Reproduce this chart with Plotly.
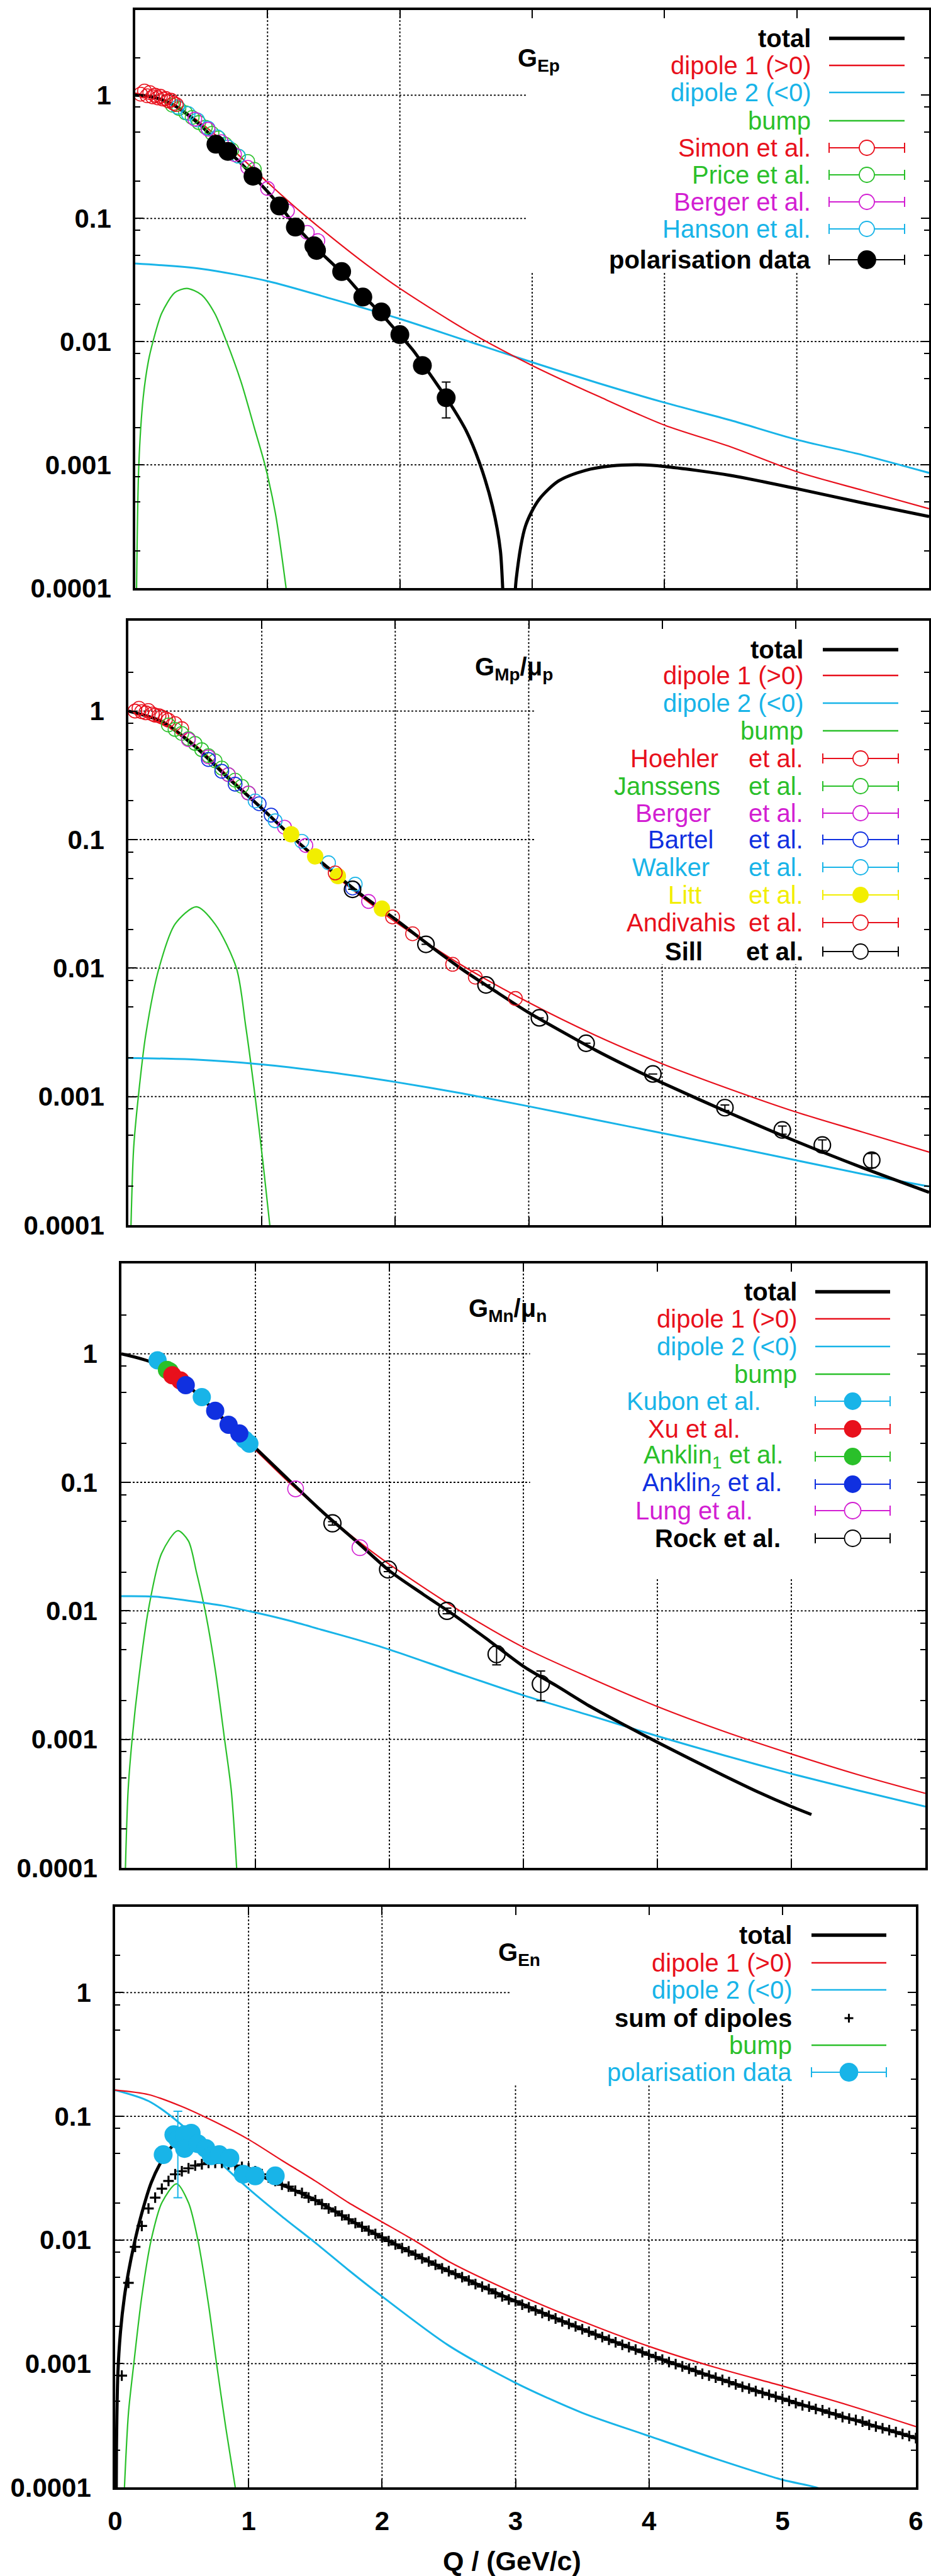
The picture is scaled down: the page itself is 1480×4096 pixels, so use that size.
import plotly.graph_objects as go

# ======================= DATA =======================
# ---- Panel 1 : G_Ep ----
gep_d1_q = [0, 0.25, 0.5, 0.75, 1, 1.25, 1.5, 1.75, 2, 2.5, 3, 3.5, 4, 4.5, 5, 5.5, 6]
gep_d1 = [1.04, 0.89, 0.59, 0.35, 0.196, 0.113, 0.068, 0.042, 0.027, 0.0124, 0.0064,
          0.0036, 0.0021, 0.0014, 0.00088, 0.00062, 0.00044]
gep_d2_q = [0, 0.5, 1, 1.5, 2, 2.5, 3, 3.5, 4, 4.5, 5, 5.5, 6]
gep_d2 = [0.043, 0.039, 0.031, 0.022, 0.0153, 0.0102, 0.0068, 0.0046, 0.0032, 0.0023,
          0.0016, 0.0012, 0.00086]
gep_bump_q = [0.01, 0.027, 0.06, 0.1, 0.134, 0.2, 0.3, 0.39, 0.5, 0.6, 0.69, 0.8, 0.9,
              0.98, 1.06, 1.14]
gep_bump = [0.0001, 0.001, 0.0035, 0.007, 0.01, 0.017, 0.025, 0.027, 0.024, 0.017, 0.01,
            0.0047, 0.002, 0.001, 0.0004, 0.0001]
gep_tot_q = [0, 0.1, 0.2, 0.3, 0.4, 0.5, 0.6, 0.7, 0.8, 0.9, 1.0, 1.1, 1.2, 1.3, 1.4, 1.5,
             1.6, 1.7, 1.8, 1.9, 2.0, 2.1, 2.2, 2.3, 2.4, 2.5, 2.6, 2.7, 2.76, 2.82, 2.88,
             2.95, 3.05, 3.2, 3.4, 3.6, 3.8, 4.0, 4.5, 5.0, 5.5, 6.0]
gep_tot = [1.0, 0.98, 0.92, 0.82, 0.69, 0.56, 0.44, 0.35, 0.28, 0.215, 0.165, 0.124, 0.09,
           0.069, 0.053, 0.042, 0.033, 0.025, 0.0195, 0.015, 0.0113, 0.0085, 0.006, 0.0042,
           0.0029, 0.0019, 0.00105, 0.00046, 0.0002, 0.00001, 0.00012, 0.00032, 0.00052,
           0.00074, 0.0009, 0.00098, 0.001, 0.00097, 0.00082, 0.00064, 0.00049, 0.00038]
simon_q = [0.04, 0.07, 0.09, 0.11, 0.13, 0.15, 0.17, 0.19, 0.21, 0.23, 0.25, 0.27, 0.29, 0.31]
simon_v = [1.02, 1.08, 0.99, 1.05, 0.97, 1.0, 0.95, 0.98, 0.93, 0.94, 0.9, 0.91, 0.86, 0.84]
price_q = [0.28, 0.33, 0.38, 0.43, 0.48, 0.53, 0.58, 0.63, 0.68, 0.73, 0.78, 0.85, 0.9]
price_v = [0.83, 0.78, 0.72, 0.66, 0.6, 0.55, 0.49, 0.45, 0.4, 0.36, 0.32, 0.29, 0.25]
bergerE_q = [0.45, 0.55, 0.65, 0.75, 0.85, 1.0, 1.15, 1.3, 1.38]
bergerE_v = [0.64, 0.53, 0.42, 0.33, 0.26, 0.175, 0.115, 0.077, 0.066]
hanson_q = [0.32, 0.4, 0.47, 0.55, 0.62, 0.7, 0.78]
hanson_v = [0.8, 0.71, 0.63, 0.54, 0.46, 0.38, 0.32]
polE_q = [0.61, 0.70, 0.89, 1.09, 1.21, 1.35, 1.37, 1.56, 1.72, 1.86, 2.0, 2.17, 2.35]
polE_v = [0.40, 0.35, 0.22, 0.126, 0.085, 0.060, 0.055, 0.037, 0.023, 0.0174, 0.0114,
          0.0064, 0.0035]
polE_ep = [0, 0, 0, 0, 0, 0, 0, 0, 0, 0, 0, 0, 0.0012]
polE_em = [0, 0, 0, 0, 0, 0, 0, 0, 0, 0, 0, 0, 0.0011]

# ---- Panel 2 : G_Mp / mu_p ----
gmp_d1_q = [0, 0.25, 0.5, 0.75, 1, 1.25, 1.5, 1.75, 2, 2.5, 3, 3.5, 4, 4.5, 5, 5.5, 6]
gmp_d1 = [1.0, 0.845, 0.547, 0.311, 0.177, 0.0985, 0.058, 0.0357, 0.0229, 0.0105, 0.0054,
          0.003, 0.0018, 0.00115, 0.00076, 0.00053, 0.00037]
gmp_d2_q = [0, 0.5, 1, 1.5, 2, 2.5, 3, 3.5, 4, 4.5, 5, 5.5, 6]
gmp_d2 = [0.002, 0.00194, 0.00178, 0.00155, 0.0013, 0.00106, 0.00084, 0.00066, 0.00052,
          0.00041, 0.00032, 0.00025, 0.0002]
gmp_bump_q = [0.02, 0.04, 0.075, 0.13, 0.23, 0.35, 0.51, 0.65, 0.81, 0.88, 0.95, 1.01, 1.06]
gmp_bump = [0.0001, 0.0004, 0.001, 0.003, 0.01, 0.022, 0.03, 0.022, 0.01, 0.0035, 0.001,
            0.0003, 0.0001]
gmp_tot_q = [0, 0.25, 0.5, 0.75, 1, 1.25, 1.5, 1.75, 2, 2.25, 2.5, 2.75, 3, 3.25, 3.5, 3.75,
             4, 4.5, 5, 5.5, 6]
gmp_tot = [1.0, 0.83, 0.53, 0.3, 0.175, 0.1, 0.06, 0.037, 0.024, 0.0152, 0.0098, 0.0066,
           0.0045, 0.0032, 0.0023, 0.0017, 0.00128, 0.00075, 0.00045, 0.00028, 0.00018]
hoehler_q = [0.05, 0.08, 0.1, 0.13, 0.15, 0.18, 0.2, 0.23, 0.25, 0.28, 0.3, 0.35, 0.4]
hoehler_v = [1.0, 1.05, 0.99, 0.97, 1.01, 0.95, 0.93, 0.92, 0.9, 0.87, 0.85, 0.8, 0.73]
janssens_q = [0.3, 0.35, 0.4, 0.45, 0.5, 0.55, 0.6, 0.65, 0.7, 0.75, 0.8, 0.85, 0.9]
janssens_v = [0.78, 0.72, 0.67, 0.61, 0.56, 0.5, 0.45, 0.41, 0.36, 0.32, 0.29, 0.26, 0.23]
bergerM_q = [0.45, 0.6, 0.75, 0.9, 1.17, 1.33, 1.8]
bergerM_v = [0.6, 0.44, 0.32, 0.23, 0.125, 0.09, 0.033]
bartel_q = [0.6, 0.7, 0.8, 0.98, 1.07, 1.68]
bartel_v = [0.42, 0.34, 0.27, 0.19, 0.155, 0.042]
walker_q = [0.95, 1.1, 1.3, 1.5, 1.7]
walker_v = [0.2, 0.14, 0.097, 0.066, 0.045]
litt_q = [1.22, 1.4, 1.57, 1.9]
litt_v = [0.11, 0.074, 0.052, 0.029]
andiv_q = [1.55, 1.98, 2.13, 2.43, 2.6, 2.9]
andiv_v = [0.055, 0.025, 0.0185, 0.0107, 0.0085, 0.0058]
sill_q = [1.68, 2.23, 2.68, 3.08, 3.43, 3.93, 4.47, 4.9, 5.2, 5.57]
sill_v = [0.041, 0.0153, 0.0074, 0.0041, 0.0026, 0.0015, 0.00082, 0.00055, 0.00042, 0.00032]
sill_e = [0, 0, 0, 0, 0, 0, 0.00004, 0.00004, 0.00004, 0.00004]

# ---- Panel 3 : G_Mn / mu_n ----
gmn_d1_q = [0, 0.25, 0.5, 0.75, 1, 1.25, 1.5, 1.75, 2, 2.5, 3, 3.5, 4, 4.5, 5, 5.5, 6]
gmn_d1 = [1.0, 0.85, 0.55, 0.31, 0.178, 0.1, 0.059, 0.036, 0.023, 0.0104, 0.0052, 0.003,
          0.0018, 0.00115, 0.00077, 0.00053, 0.00038]
gmn_d2_q = [0, 0.25, 0.5, 0.75, 1, 1.25, 1.5, 1.75, 2, 2.5, 3, 3.5, 4, 4.5, 5, 5.5, 6]
gmn_d2 = [0.013, 0.0129, 0.012, 0.011, 0.0097, 0.0084, 0.0071, 0.006, 0.005, 0.0033, 0.0022,
          0.00153, 0.00106, 0.00075, 0.00054, 0.0004, 0.0003]
gmn_bump_q = [0.03, 0.05, 0.08, 0.13, 0.2, 0.3, 0.42, 0.5, 0.56, 0.625, 0.7, 0.77, 0.82, 0.86]
gmn_bump = [0.0001, 0.0004, 0.001, 0.003, 0.01, 0.028, 0.042, 0.035, 0.02, 0.01, 0.0035,
            0.001, 0.0004, 0.0001]
gmn_tot_q = [0, 0.25, 0.5, 0.75, 1, 1.25, 1.5, 1.75, 2, 2.25, 2.5, 2.75, 3, 3.25, 3.5, 3.75,
             4, 4.25, 4.5, 4.75, 5, 5.15]
gmn_tot = [1.0, 0.84, 0.56, 0.32, 0.185, 0.104, 0.059, 0.035, 0.0205, 0.0135, 0.009, 0.0058,
           0.0037, 0.0026, 0.0018, 0.0013, 0.00095, 0.0007, 0.00052, 0.00039, 0.0003, 0.00026]
kubon_q = [0.27, 0.6, 0.92, 0.955]
kubon_v = [0.89, 0.46, 0.215, 0.20]
xu_q = [0.38, 0.44]
xu_v = [0.68, 0.62]
anklin1_q = [0.34, 0.36]
anklin1_v = [0.75, 0.73]
anklin2_q = [0.48, 0.7, 0.8, 0.88]
anklin2_v = [0.57, 0.36, 0.28, 0.24]
lung_q = [1.3, 1.78]
lung_v = [0.089, 0.031]
rock_q = [1.575, 1.99, 2.43, 2.8, 3.13]
rock_v = [0.048, 0.021, 0.010, 0.0046, 0.0027]
rock_ep = [0.0015, 0.0008, 0.0005, 0.0007, 0.0007]
rock_em = [0.0015, 0.0008, 0.0005, 0.0008, 0.0007]

# ---- Panel 4 : G_En ----
gen_d1_q = [0, 0.25, 0.5, 0.75, 1, 1.25, 1.5, 1.75, 2, 2.25, 2.5, 3, 3.5, 4, 4.5, 5, 5.5, 6]
gen_d1 = [0.163, 0.15, 0.12, 0.09, 0.065, 0.044, 0.03, 0.02, 0.014, 0.0098, 0.0067, 0.0037,
          0.0022, 0.00138, 0.00093, 0.00066, 0.00046, 0.00031]
gen_d2_q = [0, 0.25, 0.5, 0.75, 1, 1.25, 1.5, 1.75, 2, 2.5, 3, 3.5, 4, 4.5, 5, 5.25, 5.5]
gen_d2 = [0.163, 0.133, 0.085, 0.046, 0.026, 0.0155, 0.0095, 0.0057, 0.0035, 0.0014, 0.0007,
          0.0004, 0.00026, 0.00017, 0.000115, 0.0001, 0.00008]
gen_bump_q = [0.07, 0.1, 0.14, 0.2, 0.27, 0.35, 0.46, 0.55, 0.62, 0.7, 0.76, 0.83, 0.9]
gen_bump = [0.0001, 0.0004, 0.001, 0.0035, 0.01, 0.02, 0.0285, 0.02, 0.01, 0.003, 0.001,
            0.0003, 0.0001]
gen_tot_q = [0, 0.01, 0.02, 0.04, 0.07, 0.1, 0.14, 0.2, 0.27, 0.34, 0.4, 0.46, 0.5, 0.55,
             0.6, 0.7, 0.8, 0.9, 1.0, 1.12, 1.25, 1.5, 1.75, 2.0, 2.5, 3.0, 3.5, 4.0, 4.5,
             5.0, 5.5, 6.0]
gen_tot = [0.000001, 0.0002, 0.0008, 0.0018, 0.0035, 0.0055, 0.009, 0.0165, 0.029, 0.042,
           0.053, 0.061, 0.062, 0.058, 0.054, 0.046, 0.043, 0.04, 0.037, 0.032, 0.028, 0.021,
           0.0147, 0.0105, 0.0056, 0.0032, 0.0019, 0.00118, 0.00077, 0.00052, 0.00036,
           0.00025]
sumdip_q = [0.05, 0.1, 0.15, 0.2, 0.25, 0.3, 0.35, 0.4, 0.45, 0.5, 0.55, 0.6, 0.65, 0.7,
            0.75, 0.8, 0.85, 0.9, 0.95, 1.0, 1.05, 1.1, 1.15, 1.2, 1.25, 1.3, 1.35, 1.4,
            1.45, 1.5, 1.55, 1.6, 1.65, 1.7, 1.75, 1.8, 1.85, 1.9, 1.95, 2.0, 2.05, 2.1,
            2.15, 2.2, 2.25, 2.3, 2.35, 2.4, 2.45, 2.5, 2.55, 2.6, 2.65, 2.7, 2.75, 2.8,
            2.85, 2.9, 2.95, 3.0, 3.05, 3.1, 3.15, 3.2, 3.25, 3.3, 3.35, 3.4, 3.45, 3.5,
            3.55, 3.6, 3.65, 3.7, 3.75, 3.8, 3.85, 3.9, 3.95, 4.0, 4.05, 4.1, 4.15, 4.2,
            4.25, 4.3, 4.35, 4.4, 4.45, 4.5, 4.55, 4.6, 4.65, 4.7, 4.75, 4.8, 4.85, 4.9,
            4.95, 5.0, 5.05, 5.1, 5.15, 5.2, 5.25, 5.3, 5.35, 5.4, 5.45, 5.5, 5.55, 5.6,
            5.65, 5.7, 5.75, 5.8, 5.85, 5.9, 5.95, 6.0]
sumdip_v = [0.0008, 0.0045, 0.0088, 0.013, 0.018, 0.022, 0.026, 0.030, 0.034, 0.036, 0.038,
            0.040, 0.041, 0.042, 0.042, 0.042, 0.041, 0.040, 0.039, 0.038, 0.036, 0.034,
            0.032, 0.030, 0.028, 0.027, 0.025, 0.024, 0.022, 0.021, 0.0195, 0.018, 0.017,
            0.0158, 0.0147, 0.0137, 0.0128, 0.0119, 0.0112, 0.0105, 0.0098, 0.0092, 0.0086,
            0.0081, 0.0076, 0.0071, 0.0067, 0.0063, 0.0059, 0.0056, 0.0053, 0.0050, 0.0047,
            0.0044, 0.0042, 0.0040, 0.0037, 0.0035, 0.0033, 0.0032, 0.0030, 0.00285, 0.0027,
            0.00257, 0.00244, 0.00232, 0.0022, 0.0021, 0.0020, 0.0019, 0.00181, 0.00172,
            0.00164, 0.00156, 0.00149, 0.00142, 0.00136, 0.0013, 0.00124, 0.00118, 0.00113,
            0.00108, 0.00103, 0.00099, 0.00095, 0.00091, 0.00087, 0.00083, 0.0008, 0.00077,
            0.00074, 0.00071, 0.00068, 0.00065, 0.00063, 0.0006, 0.00058, 0.00056, 0.00054,
            0.00052, 0.0005, 0.00048, 0.00046, 0.00045, 0.00043, 0.00042, 0.0004, 0.00039,
            0.00037, 0.00036, 0.00035, 0.00034, 0.00032, 0.00031, 0.0003, 0.00029, 0.00028,
            0.00027, 0.00026, 0.00025]
polN_q = [0.36, 0.44, 0.47, 0.52, 0.57, 0.52, 0.62, 0.68, 0.72, 0.78, 0.86, 0.96, 1.05, 1.2]
polN_v = [0.049, 0.071, 0.065, 0.071, 0.073, 0.055, 0.06, 0.055, 0.048, 0.049, 0.046, 0.034,
          0.033, 0.033]
polN_ep = [0.004, 0.0, 0.045, 0.0, 0.0, 0.0, 0.0, 0.0, 0.0, 0.0, 0.004, 0.0, 0.0, 0.0]
polN_em = [0.004, 0.0, 0.043, 0.0, 0.0, 0.0, 0.0, 0.0, 0.0, 0.0, 0.004, 0.0, 0.0, 0.0]

y_tickvals = [0.0001, 0.001, 0.01, 0.1, 1]
y_ticktext = ["0.0001", "0.001", "0.01", "0.1", "1"]
x_tickvals = [0, 1, 2, 3, 4, 5, 6]
x_ticktext = ["0", "1", "2", "3", "4", "5", "6"]
grid_x = [1, 2, 3, 4, 5]
grid_ylog = [-3, -2, -1, 0]

# ======================= STYLE / LAYOUT =======================
W, H = 1480, 4096
FONT = "Liberation Sans, Arial, Helvetica, sans-serif"
RED = "#e8101c"
CYAN = "#18b4e8"
GREEN = "#2ac02a"
MAGENTA = "#d21ed2"
BLUE = "#1030e0"
YELLOW = "#f2ee00"
BLACK = "#000000"

# panel frames in output pixels: left, right, top, bottom
PANELS = [(215, 1477, 16, 935), (204, 1477, 987, 1948), (193, 1471, 2009, 2970),
          (183, 1456, 3032, 3955)]
YTOP = [0.691, 0.703, 0.703, 0.694]
# key areas where the grid is hidden: (x start, lowest log10 y)
KEYBOX = [(2.96, -1.43), (3.05, -1.97), (3.05, -1.75), (2.96, -0.75)]

minor_vals = []
for e in range(-4, 1):
    for m in (2, 5, 8):
        minor_vals.append(m * 10 ** e)

fig = go.Figure()


def ax(i):
    return ("x" if i == 0 else f"x{i+1}"), ("y" if i == 0 else f"y{i+1}")


def line(i, q, v, color, width):
    xa, ya = ax(i)
    fig.add_trace(go.Scatter(x=q, y=v, mode="lines", xaxis=xa, yaxis=ya,
                             line=dict(color=color, width=width, shape="spline",
                                       smoothing=0.8),
                             hoverinfo="skip"))


def pts(i, q, v, color, open_=True, size=22, lw=1.6, ep=None, em=None):
    xa, ya = ax(i)
    if open_:
        marker = dict(size=size, symbol="circle-open", color=color, line=dict(width=lw))
    else:
        marker = dict(size=size, symbol="circle", color=color, line=dict(width=0))
    err = None
    if ep is not None:
        err = dict(type="data", array=ep, arrayminus=em, color=color,
                   thickness=2, width=7, visible=True)
    fig.add_trace(go.Scatter(x=q, y=v, mode="markers", xaxis=xa, yaxis=ya,
                             marker=marker, error_y=err, hoverinfo="skip"))


# ---- panel 1
line(0, gep_bump_q, gep_bump, GREEN, 2.2)
line(0, gep_d2_q, gep_d2, CYAN, 3)
line(0, gep_d1_q, gep_d1, RED, 2.2)
line(0, gep_tot_q, gep_tot, BLACK, 5)
pts(0, price_q, price_v, GREEN)
pts(0, hanson_q, hanson_v, CYAN)
pts(0, bergerE_q, bergerE_v, MAGENTA)
pts(0, simon_q, simon_v, RED)
pts(0, polE_q, polE_v, BLACK, open_=False, size=30, ep=polE_ep, em=polE_em)

# ---- panel 2
line(1, gmp_bump_q, gmp_bump, GREEN, 2.2)
line(1, gmp_d2_q, gmp_d2, CYAN, 3)
line(1, gmp_d1_q, gmp_d1, RED, 2.2)
line(1, gmp_tot_q, gmp_tot, BLACK, 5)
pts(1, hoehler_q, hoehler_v, RED)
pts(1, janssens_q, janssens_v, GREEN)
pts(1, bergerM_q, bergerM_v, MAGENTA)
pts(1, bartel_q, bartel_v, BLUE)
pts(1, walker_q, walker_v, CYAN)
pts(1, litt_q, litt_v, YELLOW, open_=False, size=26)
pts(1, andiv_q, andiv_v, RED)
pts(1, sill_q, sill_v, BLACK, size=26, lw=2.2, ep=sill_e, em=sill_e)

# ---- panel 3
line(2, gmn_bump_q, gmn_bump, GREEN, 2.2)
line(2, gmn_d2_q, gmn_d2, CYAN, 3)
line(2, gmn_d1_q, gmn_d1, RED, 2.2)
line(2, gmn_tot_q, gmn_tot, BLACK, 5)
pts(2, kubon_q, kubon_v, CYAN, open_=False, size=29)
pts(2, anklin1_q, anklin1_v, GREEN, open_=False, size=29)
pts(2, xu_q, xu_v, RED, open_=False, size=29)
pts(2, anklin2_q, anklin2_v, BLUE, open_=False, size=29)
pts(2, lung_q, lung_v, MAGENTA, size=25)
pts(2, rock_q, rock_v, BLACK, size=27, lw=2.2, ep=rock_ep, em=rock_em)

# ---- panel 4
line(3, gen_bump_q, gen_bump, GREEN, 2.2)
line(3, gen_d2_q, gen_d2, CYAN, 3)
line(3, gen_d1_q, gen_d1, RED, 2.2)
line(3, gen_tot_q, gen_tot, BLACK, 5)
xa, ya = ax(3)
fig.add_trace(go.Scatter(x=sumdip_q, y=sumdip_v, mode="markers", xaxis=xa, yaxis=ya,
                         marker=dict(symbol="cross-thin", size=12, color=BLACK,
                                     line=dict(color=BLACK, width=3.2)),
                         hoverinfo="skip"))
pts(3, polN_q, polN_v, CYAN, open_=False, size=30, ep=polN_ep, em=polN_em)

# ---- axes
layout = {}
for i, (l, r, t, b) in enumerate(PANELS):
    xs = "xaxis" if i == 0 else f"xaxis{i+1}"
    ys = "yaxis" if i == 0 else f"yaxis{i+1}"
    xa, ya = ax(i)
    common = dict(showline=True, linewidth=3.5, linecolor=BLACK, mirror="allticks",
                  ticks="inside", ticklen=13, tickwidth=2.2, tickcolor=BLACK,
                  showgrid=False, zeroline=False,
                  tickfont=dict(family=FONT, size=42, color=BLACK, weight="bold"))
    layout[xs] = dict(domain=[l / W, r / W], anchor=ya, range=[0, 6],
                      tickmode="array", tickvals=x_tickvals, ticktext=x_ticktext,
                      showticklabels=(i == 3), ticklabelstandoff=14, **common)
    layout[ys] = dict(domain=[1 - b / H, 1 - t / H], anchor=xa, type="log",
                      range=[-4, YTOP[i]], tickmode="array", tickvals=y_tickvals,
                      ticktext=y_ticktext, ticklabelstandoff=26,
                      minor=dict(tickvals=minor_vals, ticks="inside", ticklen=8,
                                 tickwidth=2, tickcolor=BLACK, showgrid=False),
                      **common)

shapes = []
annotations = []
GRID = dict(color=BLACK, width=1.8, dash="3px,3px")

# dotted grid, interrupted where the key sits (as gnuplot's opaque key does)
for i in range(4):
    xa, ya = ax(i)
    kx, klog = KEYBOX[i]
    kfrac = (klog + 4) / (YTOP[i] + 4)
    for gx in grid_x:
        top = kfrac if gx >= kx else 1
        shapes.append(dict(type="line", xref=xa, yref=ya + " domain", x0=gx, x1=gx,
                           y0=0, y1=top, line=GRID, layer="below"))
    for gl in grid_ylog:
        frac = (gl + 4) / (YTOP[i] + 4)
        right = kx if frac >= kfrac else 6
        shapes.append(dict(type="line", xref=xa, yref=ya + " domain", x0=0, x1=right,
                           y0=frac, y1=frac, line=GRID, layer="below"))


def fx(x):
    return x / W


def fy(y):
    return 1 - y / H


def text(x, y, s, color, anchor="right", bold=False, size=40):
    annotations.append(dict(x=fx(x), y=fy(y), xref="paper", yref="paper", text=s,
                            showarrow=False, xanchor=anchor, yanchor="middle",
                            font=dict(family=FONT, size=size, color=color,
                                      weight="bold" if bold else "normal")))


def sample(kind, y, sx0, sx1, color, r=11):
    mc = (sx0 + sx1) / 2
    if kind in ("line", "thick"):
        shapes.append(dict(type="line", xref="paper", yref="paper", x0=fx(sx0), x1=fx(sx1),
                           y0=fy(y), y1=fy(y),
                           line=dict(color=color, width=5.5 if kind == "thick" else 2.6)))
    elif kind == "plus":
        for dx, dy in ((7, 0), (0, 7)):
            shapes.append(dict(type="line", xref="paper", yref="paper",
                               x0=fx(mc - dx), x1=fx(mc + dx), y0=fy(y - dy), y1=fy(y + dy),
                               line=dict(color=color, width=3)))
    else:
        shapes.append(dict(type="line", xref="paper", yref="paper", x0=fx(sx0), x1=fx(sx1),
                           y0=fy(y), y1=fy(y), line=dict(color=color, width=2)))
        for sx in (sx0, sx1):
            shapes.append(dict(type="line", xref="paper", yref="paper", x0=fx(sx), x1=fx(sx),
                               y0=fy(y - 8), y1=fy(y + 8), line=dict(color=color, width=2)))
        filled = kind == "filled"
        shapes.append(dict(type="circle", xref="paper", yref="paper",
                           x0=fx(mc - r), x1=fx(mc + r), y0=fy(y + r), y1=fy(y - r),
                           fillcolor=color if filled else "white",
                           line=dict(color=color, width=1.8)))


# ---- key panel 1
K1 = [("total", BLACK, "thick", True), ("dipole 1 (>0)", RED, "line", False),
      ("dipole 2 (<0)", CYAN, "line", False), ("bump", GREEN, "line", False),
      ("Simon et al.", RED, "open", False), ("Price et al.", GREEN, "open", False),
      ("Berger et al.", MAGENTA, "open", False), ("Hanson et al.", CYAN, "open", False),
      ("polarisation data", BLACK, "filled", True)]
K1_Y = [61, 104, 147, 192, 235, 278, 321, 364, 413]
for (s, c, k, bd), y in zip(K1, K1_Y):
    text(1291, y, s, c, bold=bd)
    sample(k, y, 1318, 1438, c, r=14 if s.startswith("polar") else 12)

# ---- key panel 2
K2_Y = [1033, 1074, 1118, 1162, 1206, 1250, 1293, 1335, 1379, 1423, 1467, 1513]
K2 = [("total", None, BLACK, "thick", True), ("dipole 1 (>0)", None, RED, "line", False),
      ("dipole 2 (<0)", None, CYAN, "line", False), ("bump", None, GREEN, "line", False),
      ("Hoehler", 1072, RED, "open", False), ("Janssens", 1060, GREEN, "open", False),
      ("Berger", 1070, MAGENTA, "open", False), ("Bartel", 1082, BLUE, "open", False),
      ("Walker", 1066, CYAN, "open", False), ("Litt", 1088, YELLOW, "filled", False),
      ("Andivahis", 1082, RED, "open", False), ("Sill", 1087, BLACK, "open", True)]
for (s, cx, c, k, bd), y in zip(K2, K2_Y):
    if cx is None:
        text(1279, y, s, c, bold=bd)
    else:
        text(cx, y, s, c, anchor="center", bold=bd)
        text(1279, y, "et al.", c, bold=bd)
    sample(k, y, 1308, 1428, c, r=12)

# ---- key panel 3
K3_Y = [2054, 2097, 2141, 2185, 2228, 2272, 2316, 2360, 2402, 2446]
K3 = [("total", None, BLACK, "thick", True), ("dipole 1 (>0)", None, RED, "line", False),
      ("dipole 2 (<0)", None, CYAN, "line", False), ("bump", None, GREEN, "line", False),
      ("Kubon et al.", 1103, CYAN, "filled", False), ("Xu et al.", 1103, RED, "filled", False),
      ("Anklin<sub>1</sub> et al.", 1134, GREEN, "filled", False),
      ("Anklin<sub>2</sub> et al.", 1132, BLUE, "filled", False),
      ("Lung et al.", 1103, MAGENTA, "open", False), ("Rock et al.", 1141, BLACK, "open", True)]
for (s, cx, c, k, bd), y in zip(K3, K3_Y):
    if cx is None:
        text(1269, y, s, c, bold=bd)
    else:
        text(cx, y, s, c, anchor="center", bold=bd)
    sample(k, y, 1296, 1415, c, r=13)

# ---- key panel 4
K4_Y = [3077, 3121, 3164, 3209, 3252, 3295]
K4 = [("total", BLACK, "thick", True), ("dipole 1 (>0)", RED, "line", False),
      ("dipole 2 (<0)", CYAN, "line", False), ("sum of dipoles", BLACK, "plus", True),
      ("bump", GREEN, "line", False), ("polarisation data", CYAN, "filled", False)]
for (s, c, k, bd), y in zip(K4, K4_Y):
    text(1261, y, s, c, bold=bd)
    sample(k, y, 1290, 1409, c, r=14)

# ---- panel labels and axis title
text(856, 95, "G<sub>Ep</sub>", BLACK, anchor="center", bold=True, size=40)
text(817, 1063, "G<sub>Mp</sub>/μ<sub>p</sub>", BLACK, anchor="center", bold=True, size=40)
text(807, 2083, "G<sub>Mn</sub>/μ<sub>n</sub>", BLACK, anchor="center", bold=True, size=40)
text(825, 3107, "G<sub>En</sub>", BLACK, anchor="center", bold=True, size=40)
text(814, 4072, "Q / (GeV/c)", BLACK, anchor="center", bold=True, size=43)

fig.update_layout(width=W, height=H, margin=dict(l=0, r=0, t=0, b=0),
                  paper_bgcolor="white", plot_bgcolor="white", showlegend=False,
                  template="none", shapes=shapes, annotations=annotations, **layout)
fig.write_html("out.html")
